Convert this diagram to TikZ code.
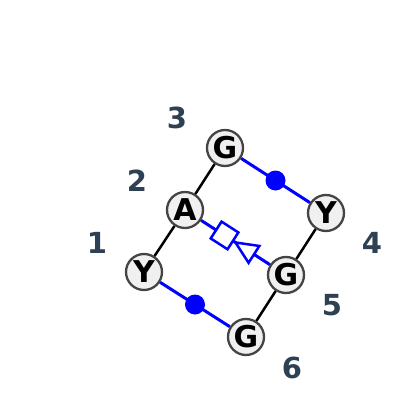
\documentclass[tikz,border=0pt]{standalone}
\usepackage{fontspec}
\setmainfont{DejaVu Sans}
\usetikzlibrary{decorations.markings}
\definecolor{numcol}{HTML}{2E4053}
\definecolor{nodefill}{HTML}{F0F0F0}
\definecolor{nodeborder}{HTML}{444444}
\tikzset{
  x=1pt, y=-1pt,
  atom/.style={circle, draw=nodeborder, fill=nodefill, line width=2.3pt,
    minimum size=36pt, inner sep=0pt, font=\fontsize{30}{30}\selectfont\bfseries},
  numlab/.style={text=numcol, font=\fontsize{29}{29}\selectfont\bfseries, inner sep=0pt},
  bond/.style={black, line width=2.5pt},
  bluebond/.style={blue, line width=3pt},
  dotmark/.style={circle, fill=blue, minimum size=20pt, inner sep=0pt},
  sqtri/.style={decoration={markings, mark=at position 0.5 with {
      \draw[blue, line width=2.5pt, fill=white, line join=miter]
        (-23,-10) rectangle (-3,10);
      \draw[blue, line width=2.5pt, fill=white, line join=miter]
        (0,0) -- (22,-10) -- (22,10) -- cycle;
    }}, postaction={decorate}},
}
\begin{document}
\begin{tikzpicture}
\useasboundingbox (0,0) rectangle (400,415);
% atoms
\node[atom] (y1) at (144,272) {Y};
\node[atom] (a2) at (185,210) {A};
\node[atom] (g3) at (225,148) {G};
\node[atom] (y4) at (326,213) {Y};
\node[atom] (g5) at (286,275) {G};
\node[atom] (g6) at (246,337) {G};
% bonds
\draw[bond] (y1) -- (a2);
\draw[bond] (a2) -- (g3);
\draw[bond] (y4) -- (g5);
\draw[bond] (g5) -- (g6);
\draw[bluebond] (y1) -- (g6) node[dotmark, midway] (d1) {};
\draw[bluebond] (g3) -- (y4) node[dotmark, midway] (d2) {};
\draw[bluebond, sqtri] (a2) -- (g5);
% labels
\node[numlab] (n1) at (97,243) {1};
\node[numlab] (n2) at (137,181) {2};
\node[numlab] (n3) at (177,118) {3};
\node[numlab] (n4) at (372,243) {4};
\node[numlab] (n5) at (332,305) {5};
\node[numlab] (n6) at (292,368) {6};
\end{tikzpicture}
\end{document}
